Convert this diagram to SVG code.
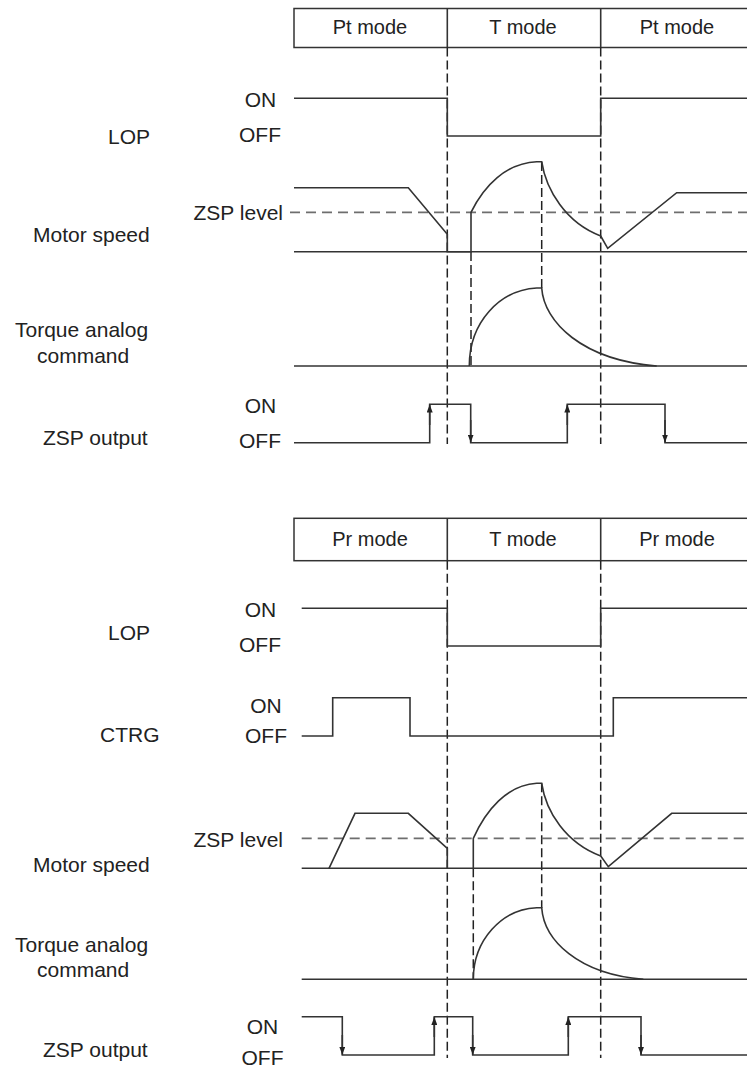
<svg xmlns="http://www.w3.org/2000/svg" width="747" height="1068" viewBox="0 0 747 1068">
<style>
text{font-family:"Liberation Sans",Arial,sans-serif;font-size:21px;fill:#222}
.hd{font-size:20px;text-anchor:middle}
.mid{text-anchor:middle}
.end{text-anchor:end}
.w{fill:none;stroke:#333;stroke-width:1.6;stroke-linejoin:miter}
.box{fill:#fff;stroke:#333;stroke-width:1.5}
.vd{fill:none;stroke:#222;stroke-width:1.5;stroke-dasharray:9 4}
.zl{fill:none;stroke:#6e6e6e;stroke-width:1.8;stroke-dasharray:10 6}
.ar{stroke:#333;stroke-width:1.6;marker-end:url(#ah)}
</style>
<defs>
<marker id="ah" viewBox="0 0 8 6" refX="8" refY="3" markerWidth="8" markerHeight="6" orient="auto" markerUnits="userSpaceOnUse">
<path d="M0,0 L8,3 L0,6 z" fill="#222"/>
</marker>
</defs>
<rect width="747" height="1068" fill="#fff"/>

<!-- ===== TOP DIAGRAM ===== -->
<g id="top-header">
<rect class="box" x="294" y="8.5" width="470" height="39"/>
<line class="w" x1="447.3" y1="8.5" x2="447.3" y2="47.5"/>
<line class="w" x1="600.7" y1="8.5" x2="600.7" y2="47.5"/>
<text class="hd" x="370" y="34">Pt mode</text>
<text class="hd" x="523" y="34">T mode</text>
<text class="hd" x="677" y="34">Pt mode</text>
</g>

<g id="top-guides">
<line class="vd" x1="447.3" y1="47.5" x2="447.3" y2="444"/>
<line class="vd" x1="600.7" y1="47.5" x2="600.7" y2="444"/>
<line class="vd" x1="471" y1="252" x2="471" y2="366"/>
<line class="vd" x1="541.7" y1="162" x2="541.7" y2="288"/>
<line class="zl" x1="290" y1="212.3" x2="747" y2="212.3"/>
</g>

<g id="top-lop">
<text x="108" y="144">LOP</text>
<text class="mid" x="260.5" y="106.5">ON</text>
<text class="mid" x="260" y="142">OFF</text>
<path class="w" d="M294,98.3 H447.3 V136 H600.7 V98.3 H747"/>
</g>

<g id="top-speed">
<text x="33" y="242">Motor speed</text>
<text class="end" x="283" y="220">ZSP level</text>
<line class="w" x1="294" y1="251.7" x2="747" y2="251.7"/>
<path class="w" d="M294,187.7 H408.3 L447.3,234.3 V251.7 H471 V212.3 C484,186 506,163 536.7,161.7 H541.7 C546,190 566,223 600.7,236 L607.7,248.3 L676.7,192.7 H747"/>
</g>

<g id="top-torque">
<text x="15" y="337">Torque analog</text>
<text x="37" y="362.5">command</text>
<line class="w" x1="294" y1="366" x2="747" y2="366"/>
<path class="w" d="M469.3,366 C469.3,322 500,290 536.7,288 H541.7 C544,322 582,360 656.7,366"/>
</g>

<g id="top-zsp">
<text x="43" y="445">ZSP output</text>
<text class="mid" x="260.5" y="412.5">ON</text>
<text class="mid" x="260" y="447.5">OFF</text>
<path class="w" d="M294,442.7 H429.7 V404.3 H470.7 V442.7 H567.3 V404.3 H665 V442.7 H747"/>
<line class="ar" x1="429.7" y1="425" x2="429.7" y2="404.5"/>
<line class="ar" x1="470.7" y1="420" x2="470.7" y2="442.5"/>
<line class="ar" x1="567.3" y1="425" x2="567.3" y2="404.5"/>
<line class="ar" x1="665" y1="420" x2="665" y2="442.5"/>
</g>

<!-- ===== BOTTOM DIAGRAM ===== -->
<g id="bottom-header">
<rect class="box" x="294" y="518.3" width="470" height="42.4"/>
<line class="w" x1="447.3" y1="518.3" x2="447.3" y2="560.7"/>
<line class="w" x1="600.7" y1="518.3" x2="600.7" y2="560.7"/>
<text class="hd" x="370" y="546">Pr mode</text>
<text class="hd" x="523" y="546">T mode</text>
<text class="hd" x="677" y="546">Pr mode</text>
</g>

<g id="bottom-guides">
<line class="vd" x1="447.3" y1="560.7" x2="447.3" y2="1058"/>
<line class="vd" x1="600.7" y1="560.7" x2="600.7" y2="1058"/>
<line class="vd" x1="473.3" y1="868.3" x2="473.3" y2="979.3"/>
<line class="vd" x1="541.7" y1="783.3" x2="541.7" y2="908"/>
<line class="zl" x1="301.7" y1="838.3" x2="747" y2="838.3"/>
</g>

<g id="bottom-lop">
<text x="108" y="640">LOP</text>
<text class="mid" x="260.5" y="616.5">ON</text>
<text class="mid" x="260" y="652">OFF</text>
<path class="w" d="M301.7,608.3 H447.3 V646 H600.7 V608.3 H747"/>
</g>

<g id="bottom-ctrg">
<text x="100" y="741.5">CTRG</text>
<text class="mid" x="266" y="713">ON</text>
<text class="mid" x="266" y="743">OFF</text>
<path class="w" d="M301.7,736 H332.7 V697.7 H410 V736 H613.3 V697.7 H747"/>
</g>

<g id="bottom-speed">
<text x="33" y="872">Motor speed</text>
<text class="end" x="283" y="846.5">ZSP level</text>
<line class="w" x1="301.7" y1="868.3" x2="747" y2="868.3"/>
<path class="w" d="M329,868.3 L355,813.3 H408.3 L447.3,848.3 V868.3"/>
<path class="w" d="M473.3,868.3 V838.3 C486,810 507,785 536.7,783.3 H541.7 C546,812 566,843 600.7,856 L608.3,866.7 L671.7,813.3 H747"/>
</g>

<g id="bottom-torque">
<text x="15" y="951.5">Torque analog</text>
<text x="37" y="976.5">command</text>
<line class="w" x1="301.7" y1="979.3" x2="747" y2="979.3"/>
<path class="w" d="M473.3,979.3 C473.3,940 502,909 536.7,907.7 H541.7 C544,940 578,974 643.3,979.3"/>
</g>

<g id="bottom-zsp">
<text x="43" y="1056.5">ZSP output</text>
<text class="mid" x="262.5" y="1034">ON</text>
<text class="mid" x="262.5" y="1065">OFF</text>
<path class="w" d="M301.7,1016.7 H342.3 V1055 H434.3 V1016.7 H472.7 V1055 H568.3 V1016.7 H641 V1055 H747"/>
<line class="ar" x1="342.3" y1="1035" x2="342.3" y2="1054.8"/>
<line class="ar" x1="434.3" y1="1037" x2="434.3" y2="1017"/>
<line class="ar" x1="472.7" y1="1035" x2="472.7" y2="1054.8"/>
<line class="ar" x1="568.3" y1="1037" x2="568.3" y2="1017"/>
<line class="ar" x1="641" y1="1035" x2="641" y2="1054.8"/>
</g>
</svg>
